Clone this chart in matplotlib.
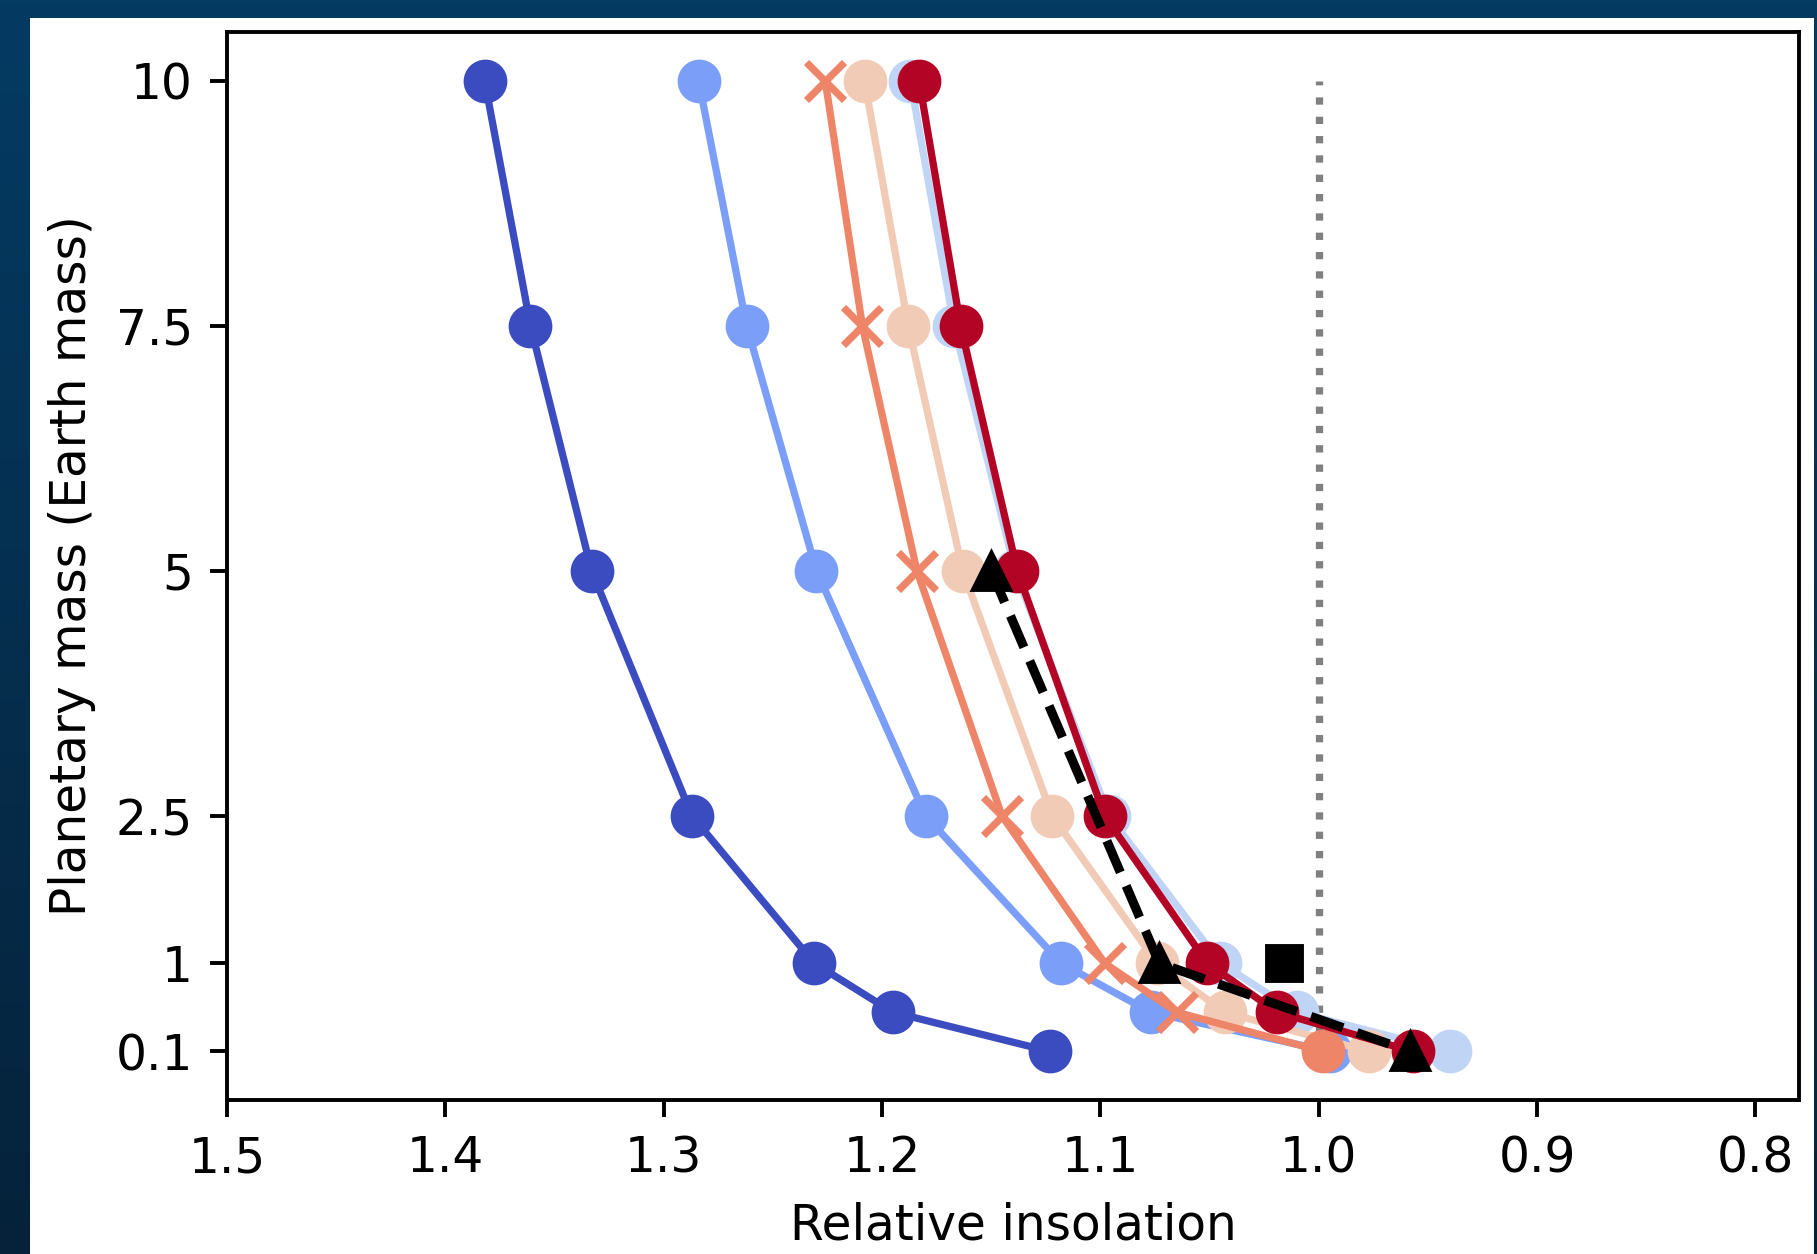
import numpy as np
import matplotlib
matplotlib.use("Agg")
import matplotlib.pyplot as plt
from matplotlib.patches import Rectangle

# ---- data ----
masses = [10, 7.5, 5, 2.5, 1, 0.5, 0.1]
series_dark_blue = [1.382, 1.361, 1.333, 1.287, 1.231, 1.195, 1.123]
series_light_blue = [1.284, 1.262, 1.230, 1.180, 1.118, 1.077, 0.995]
series_pale_blue = [1.187, 1.167, 1.139, 1.096, 1.045, 1.010, 0.940]
series_pale_orange = [1.208, 1.188, 1.163, 1.122, 1.074, 1.043, 0.977]
series_orange = [1.226, 1.209, 1.184, 1.145, 1.098, 1.065, 0.998]
series_red = [1.183, 1.164, 1.138, 1.098, 1.051, 1.019, 0.957]

triangle_masses = [5, 1, 0.1]
triangle_insolation = [1.150, 1.073, 0.958]
square_mass = [1]
square_insolation = [1.016]

ref_line_x = [1.0, 1.0]
ref_line_y = [0.1, 10]

xticks = [1.5, 1.4, 1.3, 1.2, 1.1, 1.0, 0.9, 0.8]
yticks = [0.1, 1, 2.5, 5, 7.5, 10]
ytick_labels = ["0.1", "1", "2.5", "5", "7.5", "10"]

W, H, DPI = 1818, 1254, 350
fig = plt.figure(figsize=(W / DPI, H / DPI), dpi=DPI)

# dark blue gradient background with white canvas
bg = fig.add_axes([0, 0, 1, 1])
bg.set_axis_off()
top = np.array([4, 59, 99]) / 255
bot = np.array([6, 34, 58]) / 255
t = np.linspace(0, 1, 256)[:, None]
grad = top[None, :] * (1 - t) + bot[None, :] * t
grad = np.repeat(grad[:, None, :], 2, axis=1)
bg.imshow(grad, aspect="auto", extent=[0, 1, 0, 1], origin="upper")
bg.set_xlim(0, 1)
bg.set_ylim(0, 1)
bg.add_patch(Rectangle((30 / W, 0), (1814 - 30) / W, (H - 18) / H,
                       facecolor="white", edgecolor="none", transform=bg.transAxes))

ax = fig.add_axes([227 / W, 1 - 1100 / H, (1799 - 227) / W, (1100 - 32) / H])

cmap = plt.get_cmap("coolwarm")
cols = cmap(np.linspace(0, 1, 6))

lw = 1.5
ms = 8

ax.plot(ref_line_x, ref_line_y, color="grey", linestyle=":", lw=1.5, zorder=1)

ax.plot(series_dark_blue, masses, "-o", color=cols[0], lw=lw, ms=ms)
ax.plot(series_light_blue, masses, "-o", color=cols[1], lw=lw, ms=ms)
ax.plot(series_pale_blue, masses, "-o", color=cols[2], lw=lw, ms=ms)
ax.plot(series_pale_orange, masses, "-o", color=cols[3], lw=lw, ms=ms)
ax.plot(series_orange, masses, "-", color=cols[4], lw=lw)
ax.plot(series_orange[:-1], masses[:-1], "x", color=cols[4], ms=ms, mew=1.5)
ax.plot(series_orange[-1:], masses[-1:], "o", color=cols[4], ms=ms)
ax.plot(series_red, masses, "-o", color=cols[5], lw=lw, ms=ms)

ax.plot(triangle_insolation, triangle_masses, "--^", color="black", lw=1.9, ms=7.5)
ax.plot(square_insolation, square_mass, "s", color="black", ms=7)

ax.set_xlim(1.5, 0.78)
ax.set_ylim(-0.395, 10.495)
ax.set_xticks(xticks)
ax.set_yticks(yticks)
ax.set_yticklabels(ytick_labels)
ax.set_xlabel("Relative insolation", fontsize=10)
ax.set_ylabel("Planetary mass (Earth mass)", fontsize=10)
ax.tick_params(labelsize=10)

fig.savefig("out.png", dpi=DPI)
